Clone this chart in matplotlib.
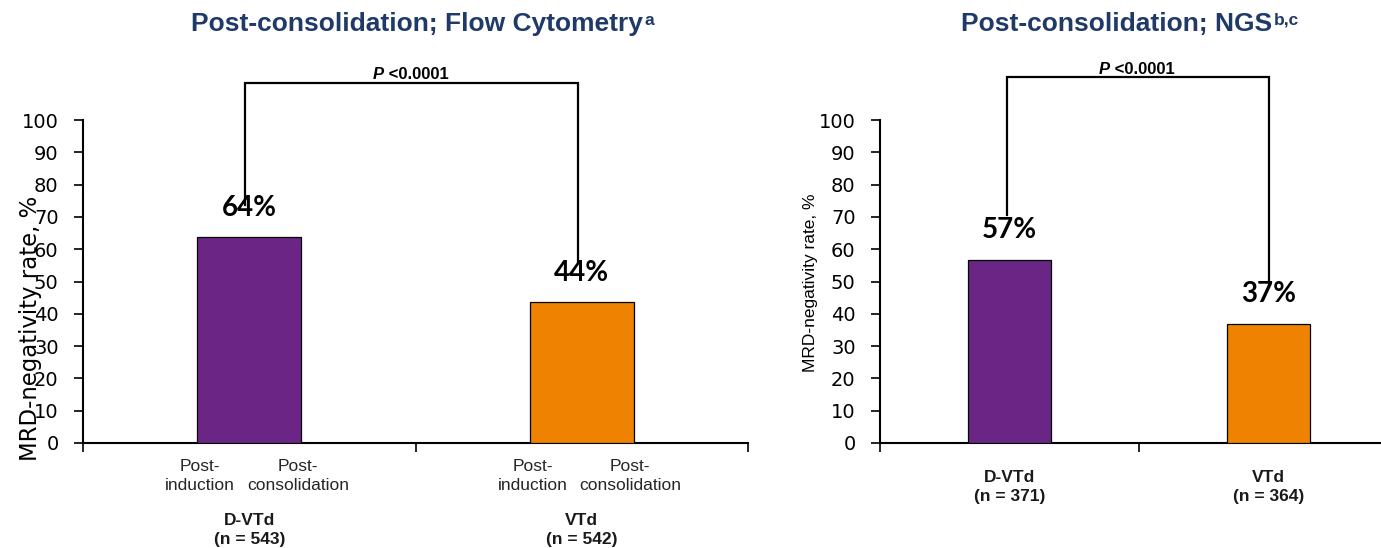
import matplotlib
matplotlib.use("Agg")
import matplotlib.pyplot as plt
from matplotlib.text import Annotation

# ---- data ----
groups = ["D-VTd", "VTd"]
flow_n = [543, 542]
ngs_n = [371, 364]
flow_values = [63.8, 43.6]
ngs_values = [56.6, 36.8]
flow_labels = ["64%", "44%"]
ngs_labels = ["57%", "37%"]
timepoints = ["Post-\ninduction", "Post-\nconsolidation"]
yticks = [0, 10, 20, 30, 40, 50, 60, 70, 80, 90, 100]
p_text = "P"
p_rest = " <0.0001"
titles = ["Post-consolidation; Flow Cytometry", "Post-consolidation; NGS"]
title_sups = ["a", "b,c"]
ylabel = "MRD-negativity rate, %"

colors = ["#6A2585", "#EF8200"]
navy = "#1F3A68"

W, H = 1381, 548
fig = plt.figure(figsize=(W / 100, H / 100), dpi=100)

def fx(px):
    return px / W

def fy(py):
    return (H - py) / H

ax1 = fig.add_axes([fx(83), fy(443), fx(748) - fx(83), fy(120) - fy(443)])
ax2 = fig.add_axes([fx(880), fy(443), 1 - fx(880), fy(120) - fy(443)])

tick_font = dict(family="DejaVu Sans", size=14)

def style_axes(ax, xmax):
    x = list(range(len(groups)))
    for s in ["top", "right"]:
        ax.spines[s].set_visible(False)
    for s in ["left", "bottom"]:
        ax.spines[s].set_linewidth(1.5)
        ax.spines[s].set_color("black")
    ax.set_yticks(yticks)
    ax.set_yticklabels([str(t) for t in yticks], **tick_font)
    ax.tick_params(axis="y", direction="out", length=6.5, width=1.2, pad=11)
    ax.set_xticks([-0.5, 0.5, 1.5])
    ax.set_xticklabels([])
    ax.tick_params(axis="x", direction="out", length=6.5, width=1.2)
    ax.set_ylim(0, 100)
    ax.set_xlim(-0.5, xmax)
    return x

def bracket(ax, x, vals, top, drops):
    ax.plot([x[0], x[0], x[1], x[1]],
            [vals[0] + drops[0], top, top, vals[1] + drops[1]],
            color="black", lw=1.6, clip_on=False, solid_joinstyle="miter")
    mid = (x[0] + x[1]) / 2
    ax.annotate(p_text, xy=(mid, top), xytext=(-20, 2.5), textcoords="offset points",
                ha="right", va="baseline", fontsize=12, fontweight="bold",
                fontstyle="italic", family="Liberation Sans", annotation_clip=False)
    ax.annotate(p_rest, xy=(mid, top), xytext=(-20, 2.5), textcoords="offset points",
                ha="left", va="baseline", fontsize=12, fontweight="bold",
                family="Liberation Sans", annotation_clip=False)

# ---- left panel: flow cytometry ----
x1 = style_axes(ax1, 1.5)
ax1.bar(x1, flow_values, width=0.314, color=colors, edgecolor="black", linewidth=0.9, zorder=3)
for xi, v, lab in zip(x1, flow_values, flow_labels):
    ax1.annotate(lab, xy=(xi, v), xytext=(0, 21), textcoords="offset points",
                 ha="center", va="center", fontsize=20, fontweight="bold", family="Lato")
bracket(ax1, [x1[0] - 0.012, x1[1] - 0.012], flow_values, 111.5, [10.0, 12.4])
trans1 = ax1.get_xaxis_transform()
for xi, g, n in zip(x1, groups, flow_n):
    for off, tp in zip([-0.148, 0.146], timepoints):
        ax1.text(xi + off, -0.102, tp, transform=trans1, ha="center", va="center",
                 fontsize=12.5, family="Liberation Sans", color="#262626",
                 linespacing=1.35, multialignment="center")
    ax1.text(xi, -0.27, f"{g}\n(n = {n})", transform=trans1, ha="center", va="center",
             fontsize=12.5, fontweight="bold", family="Liberation Sans", color="#1a1a1a",
             linespacing=1.35)

# ---- right panel: NGS ----
x2 = style_axes(ax2, 0.5 + (W - 1139) / 259)
ax2.bar(x2, ngs_values, width=0.317, color=colors, edgecolor="black", linewidth=0.9, zorder=3)
for xi, v, lab in zip(x2, ngs_values, ngs_labels):
    ax2.annotate(lab, xy=(xi, v), xytext=(0, 22), textcoords="offset points",
                 ha="center", va="center", fontsize=20, fontweight="bold", family="Lato")
bracket(ax2, [x2[0] - 0.01, x2[1]], ngs_values, 113.3, [14.0, 12.0])
trans2 = ax2.get_xaxis_transform()
for xi, g, n in zip(x2, groups, ngs_n):
    ax2.text(xi, -0.135, f"{g}\n(n = {n})", transform=trans2, ha="center", va="center",
             fontsize=12.5, fontweight="bold", family="Liberation Sans", color="#1a1a1a",
             linespacing=1.35)

# ---- y labels ----
fig.text(fx(31), fy(328), ylabel, rotation=90, ha="center", va="center",
         fontsize=16.4, family="DejaVu Sans", color="black")
fig.text(fx(810), fy(283), ylabel, rotation=90, ha="center", va="center",
         fontsize=12.5, family="Liberation Sans", color="black")

# ---- titles ----
for xpx, t, sup in zip([191, 961], titles, title_sups):
    tt = fig.text(fx(xpx), fy(31), t, ha="left", va="baseline", fontsize=19,
                  fontweight="bold", family="Liberation Sans", color=navy)
    fig.add_artist(Annotation(
        sup, xy=(1, 0), xycoords=tt, xytext=(1.5, 8), textcoords="offset points",
        ha="left", va="baseline", fontsize=12.5, fontweight="bold",
        family="Liberation Sans", color=navy))

fig.savefig("out.png", dpi=100)
